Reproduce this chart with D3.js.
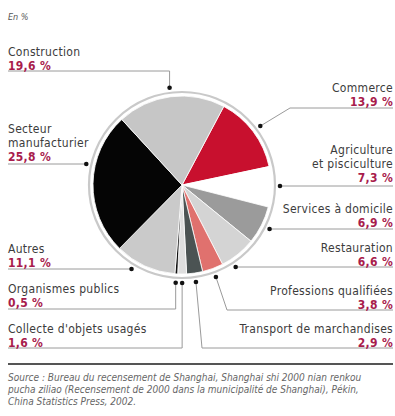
<!DOCTYPE html>
<html>
<head>
<meta charset="utf-8">
<script src="https://cdn.jsdelivr.net/npm/d3@7"></script>
<style>
  body { margin: 0; background: #fff; }
  svg text { font-family: "Liberation Sans Narrow", "DejaVu Sans Condensed", "Arial Narrow", sans-serif; }
</style>
</head>
<body>
<svg id="chart" width="395" height="416"></svg>
<script>
//########## data #######
// slices listed clockwise, starting with Commerce
const categories = [
  "Commerce",
  "Agriculture et pisciculture",
  "Services à domicile",
  "Restauration",
  "Professions qualifiées",
  "Transport de marchandises",
  "Collecte d'objets usagés",
  "Organismes publics",
  "Autres",
  "Secteur manufacturier",
  "Construction"
];
const shares = [13.9, 7.3, 6.9, 6.6, 3.8, 2.9, 1.6, 0.5, 11.1, 25.8, 19.6];
const sliceColors = [
  "#c8102e", "#ffffff", "#9b9b9b", "#d4d4d4", "#e0716e", "#4b5353",
  "#dedede", "#111111", "#cacaca", "#050505", "#c6c6c6"
];
const sourceLines = [
  "Source : Bureau du recensement de Shanghai, Shanghai shi 2000 nian renkou",
  "pucha ziliao (Recensement de 2000 dans la municipalité de Shanghai), Pékin,",
  "China Statistics Press, 2002."
];

//########## layout #######
const cx = 182, cy = 185;
const rSlice = 89, rRing = 93, rDot = 98;
const startDeg = 28;
const textColor = "#3c3c3c", pctColor = "#a81c4c", leaderColor = "#9a9a9a";
const leftX = 8, rightX = 393;
const fontSize = 12, lineStep = 14;

// label placement: percent baseline (name lines sit above it), leader routing
// route "h": horizontal leader, dot where the leader meets the circle
// route "bend": dot at slice middle, then to (bendX, lineY), then along lineY
const labelLayout = {
  "Commerce": { side: "right", lines: ["Commerce"], pctY: 106, lineY: 108, route: "bend", bendX: 290 },
  "Agriculture et pisciculture": { side: "right", lines: ["Agriculture", "et pisciculture"], pctY: 182, lineY: 186, route: "h" },
  "Services à domicile": { side: "right", lines: ["Services à domicile"], pctY: 227, lineY: 229, route: "h" },
  "Restauration": { side: "right", lines: ["Restauration"], pctY: 266, lineY: 267, route: "h" },
  "Professions qualifiées": { side: "right", lines: ["Professions qualifiées"], pctY: 309, lineY: 310, route: "bend", bendX: 227 },
  "Transport de marchandises": { side: "right", lines: ["Transport de marchandises"], pctY: 347, lineY: 348, route: "bend", bendX: 202 },
  "Collecte d'objets usagés": { side: "left", lines: ["Collecte d'objets usagés"], pctY: 347, lineY: 348, route: "bend", bendX: null },
  "Organismes publics": { side: "left", lines: ["Organismes publics"], pctY: 307, lineY: 309, route: "bend", bendX: null },
  "Autres": { side: "left", lines: ["Autres"], pctY: 267, lineY: 269, route: "h" },
  "Secteur manufacturier": { side: "left", lines: ["Secteur", "manufacturier"], pctY: 161, lineY: 164, route: "h" },
  "Construction": { side: "left", lines: ["Construction"], pctY: 70, lineY: 71, route: "bend", bendX: null }
};

const fmtPct = (v) => d3.format(".1f")(v).replace(".", ",") + " %";

const svg = d3.select("#chart");

svg.append("text")
  .attr("x", 8).attr("y", 20)
  .attr("font-size", 9).attr("font-style", "italic")
  .attr("fill", "#555")
  .text("En %");

//########## pie #######
const data = categories.map((c, i) => ({ name: c, value: shares[i], color: sliceColors[i] }));
const start = startDeg * Math.PI / 180;
const pie = d3.pie().sort(null).value((d) => d.value)
  .startAngle(start).endAngle(start + 2 * Math.PI);
const arcs = pie(data);
const arc = d3.arc().innerRadius(0).outerRadius(rSlice);
const dotArc = d3.arc().innerRadius(rDot).outerRadius(rDot);

const g = svg.append("g").attr("transform", `translate(${cx},${cy})`);

g.append("circle")
  .attr("r", rRing)
  .attr("fill", "none")
  .attr("stroke", "#c9c9c9")
  .attr("stroke-width", 2.2);

g.selectAll("path.slice")
  .data(arcs)
  .enter()
  .append("path")
  .attr("class", "slice")
  .attr("d", arc)
  .attr("fill", (d) => d.data.color)
  .attr("stroke", "#fff")
  .attr("stroke-width", 0.8);

//########## labels #######
const lab = svg.append("g");

arcs.forEach((a) => {
  const L = labelLayout[a.data.name];
  const isLeft = L.side === "left";
  const tx = isLeft ? leftX : rightX;

  // dot position
  let dot;
  if (L.route === "h") {
    const dy = L.lineY - cy;
    const dx = Math.sqrt(Math.max(rDot * rDot - dy * dy, 0));
    dot = [cx + (isLeft ? -dx : dx), L.lineY];
  } else {
    const c = dotArc.centroid(a);
    dot = [cx + c[0], cy + c[1]];
  }

  let pts;
  if (L.route === "h") {
    pts = [dot, [tx, L.lineY]];
  } else {
    const bx = L.bendX === null ? dot[0] : L.bendX;
    pts = [dot, [bx, L.lineY], [tx, L.lineY]];
  }

  lab.append("path")
    .attr("d", d3.line()(pts))
    .attr("fill", "none")
    .attr("stroke", leaderColor)
    .attr("stroke-width", 1);

  lab.append("circle")
    .attr("cx", dot[0]).attr("cy", dot[1])
    .attr("r", 2.3)
    .attr("fill", "#111");

  const anchor = isLeft ? "start" : "end";
  const n = L.lines.length;
  L.lines.forEach((line, i) => {
    lab.append("text")
      .attr("x", tx).attr("y", L.pctY - (n - i) * lineStep)
      .attr("text-anchor", anchor)
      .attr("font-size", fontSize)
      .attr("letter-spacing", 0.3)
      .attr("fill", textColor)
      .text(line);
  });
  lab.append("text")
    .attr("x", tx).attr("y", L.pctY)
    .attr("text-anchor", anchor)
    .attr("font-size", fontSize)
    .attr("letter-spacing", 0.3)
    .attr("font-weight", "bold")
    .attr("fill", pctColor)
    .text(fmtPct(a.data.value));
});

//########## source #######
svg.append("line")
  .attr("x1", 8).attr("x2", 393)
  .attr("y1", 364).attr("y2", 364)
  .attr("stroke", "#555")
  .attr("stroke-width", 2.2);

svg.append("g")
  .selectAll("text")
  .data(sourceLines)
  .enter()
  .append("text")
  .attr("x", 8)
  .attr("y", (d, i) => 381 + i * 12)
  .attr("font-size", 10)
  .attr("font-style", "italic")
  .attr("fill", "#666")
  .text((d) => d);
</script>
</body>
</html>
